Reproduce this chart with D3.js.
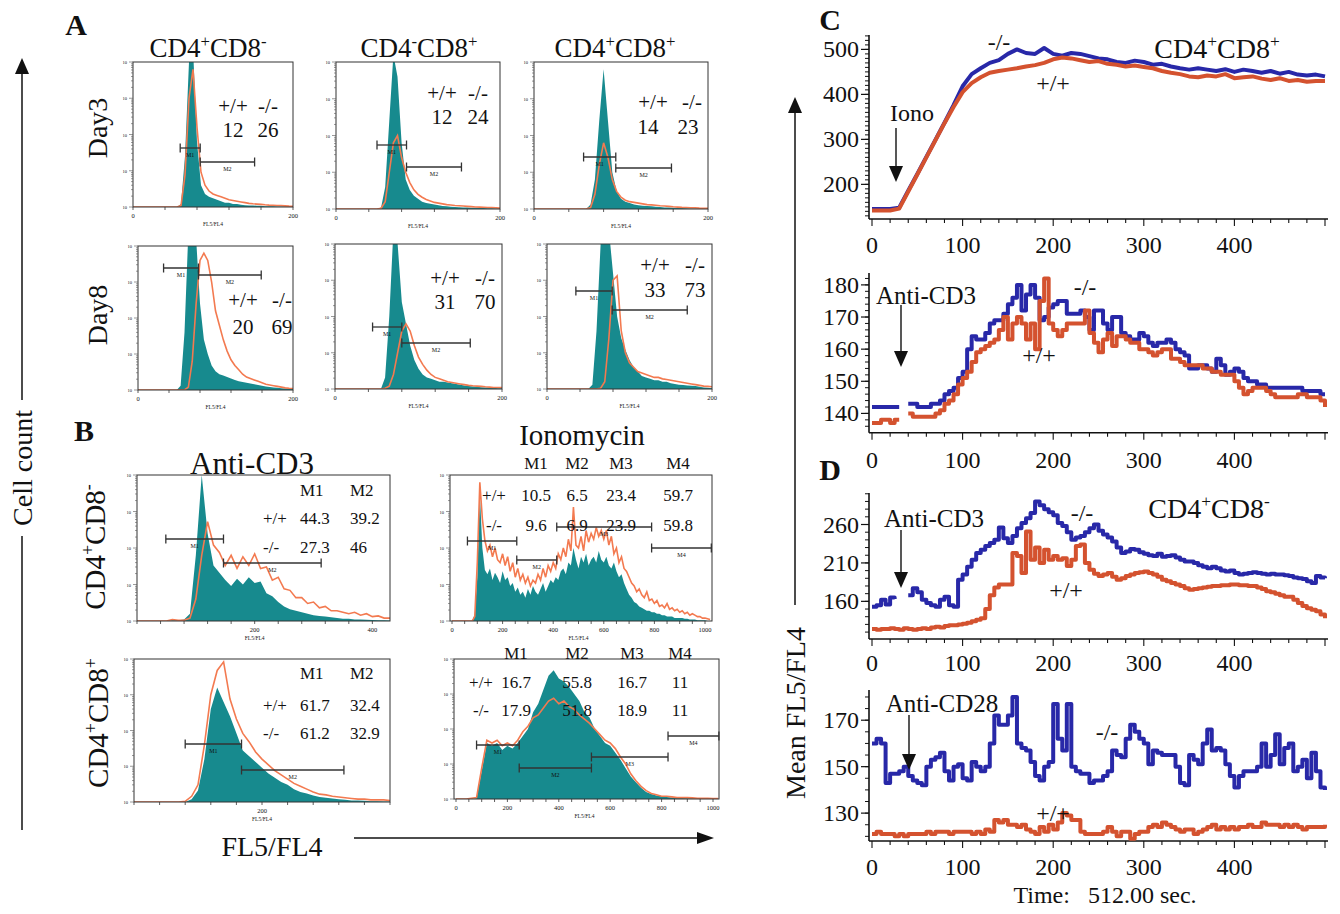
<!DOCTYPE html>
<html><head><meta charset="utf-8">
<script src="https://cdn.jsdelivr.net/npm/d3@7/dist/d3.min.js"></script>
<style>
html,body{margin:0;padding:0;background:#fff;}
svg{display:block;}
text{font-family:"Liberation Serif","Times New Roman",Times,serif;fill:#111;}
</style></head><body>
<svg id="fig" width="1340" height="914"></svg>
<script>
// ================= DATA =================
// Panel A histograms: FL5/FL4 bins (0-200) ; values = % of frame height
const binsA = d3.range(0, 201, 5);
const aTitles = ["CD4^+CD8^-", "CD4^-CD8^+", "CD4^+CD8^+"];
const aRows = ["Day3", "Day8"];
const aTealSeries = [
  [0,0,0,0,0,0,0,0,0,0,0,0, 2,35,100,110,45,15,9,7,6,5, 4,3,3,2,2,1.5,1.2,1,1,0.8, 0.8,0.6,0.5,0.5,0.4,0.4,0.3,0.3,0.2],
  [0,0,0,0,0,0,0,0,0,0,0, 1,15,60,105,90,45,20,13,9,7, 5,4,3.5,3,2.5,2,1.8,1.5,1.3,1.2, 1,1,0.8,0.8,0.7,0.6,0.5,0.5,0.4,0.3],
  [0,0,0,0,0,0,0,0,0,0,0,0,0, 3,20,60,95,60,25,12,7,5,4, 3,2.5,2.2,2,1.8,1.5,1.3,1.1,1,0.9, 0.7,0.6,0.5,0.4,0.3,0.3,0.2,0.2],
  [0,0,0,0,0,0,0,0,0,0, 0,3,40,110,110,105,60,35,25,17, 13,11,10,9,8,7,6,5.5,5,4.5, 4,3.5,3,2.5,2,1.8,1.5,1.2,1,1, 0.8],
  [0,0,0,0,0,0,0,0,0,0,0, 0,8,50,110,100,60,45,30,20,14, 10,8,7,6,5,5,4.5,4,3.5,3, 2.5,2,1.8,1.5,1.2,1,1,0.8,0.6,0.5],
  [0,0,0,0,0,0,0,0,0,0,0, 3,40,100,110,110,80,50,35,27,20, 15,12,9,8,7,6,6,5,5,4, 3.5,3,2.8,2.5,2.2,2,1.5,1,0.8,0.5]
];
const aOrangeSeries = [
  [0,0,0,0,0,0,0,0,0,0,0,0, 1,22,75,95,55,24,15,11,9,8, 7,6,5,4.5,4,3.5,3,2.5,2.2,2, 1.8,1.5,1.3,1.2,1,1,0.8,0.6,0.5],
  [0,0,0,0,0,0,0,0,0,0,0, 0.5,5,25,45,50,35,25,18,13,10, 8,6.5,5.5,4.5,4,3.5,3,2.7,2.4,2.2, 2,1.8,1.6,1.4,1.3,1.2,1,1,0.8,0.6],
  [0,0,0,0,0,0,0,0,0,0,0,0,0, 1,10,30,45,35,20,12,8,6,5, 4.5,4,3.5,3,2.8,2.5,2.2,2,1.8,1.5, 1.3,1.1,1,0.9,0.8,0.6,0.5,0.5],
  [0,0,0,0,0,0,0,0,0,0,0,0,0, 2,20,60,90,95,90,75,55,45,35, 27,21,17,14,11,9,8,7,6,5, 4,3.5,3,2.5,2,1.5,1.2,1],
  [0,0,0,0,0,0,0,0,0,0,0,0, 0.5,2,10,25,40,45,40,30,22,17, 13,10,8,7,6,5,4.5,4,3.5,3, 2.5,2.2,2,1.8,1.5,1.3,1,1,1],
  [0,0,0,0,0,0,0,0,0,0,0,0,0, 0.5,5,35,75,78,40,25,18,15,12, 11,10,9,8,8,7,6.5,6,5.5,5, 4.5,4,3.5,3,2.5,2,1.8,1.5]
];
const aGates = [
  [[59,84],[84,152]], [[50,86],[86,153]], [[57,94],[94,158]],
  [[33,78],[78,159]], [[45,80],[80,162]], [[35,79],[79,170]]
];
const aWT = ["12","12","14","20","31","33"];
const aKO = ["26","24","23","69","70","73"];

// Panel B histograms
const bTitles = ["Anti-CD3", "Ionomycin"];
const bRows = ["CD4^+CD8^-", "CD4^+CD8^+"];
const binsB11 = d3.range(0, 431, 10);
const binsB21 = d3.range(0, 401, 10);
const binsB12 = d3.range(0, 1021, 10);
const binsB22 = d3.range(0, 1021, 20);
const b11Teal = [0,0,0,0,0,0,0.5,0.5,1,5, 45,100,60,38,33,28,24,29,25,30, 26,27,19,17,13,10,8,7,6,5, 4,3.5,3,2.5,2,1.5,1.5,1,1,0.8, 0.6,0.5,0.5,0.3];
const b11Orange = [0,0,0,0,0,0,1,0.5,0.5,2, 15,45,68,52,47,38,45,36,44,38, 46,36,37,28,30,22,21,16,16,12, 13,9,10,7,7,6,5,6,4,5, 3,3.5,2,2];
const b12Teal = [0,0,0,0,0,0,0,0,0,5, 30,88,50,35,32,36,28,33,30,26, 34,28,30,24,26,20,23,18,20,16, 22,18,24,20,18,22,26,20,24,28, 26,30,28,34,36,32,40,38,50,42, 36,44,40,46,38,42,44,40,48,42, 40,44,38,36,40,34,30,32,26,22, 18,16,13,12,10,9,8,7,7,6, 6,5,5,4,4,3,3,3,2,2, 2,2,1.5,1.5,1,1,1,0.5,0.5,0.5, 0.5,0,0];
const b12Orange = [0,0,0,0,0,0,0,0,0,3, 40,95,70,55,48,52,44,50,42,40, 46,38,44,34,40,30,36,28,32,26, 30,24,28,26,32,28,36,30,38,34, 40,36,46,42,50,44,56,48,78,52, 50,58,48,62,54,60,56,64,58,62, 56,62,52,58,46,50,40,44,36,34, 30,26,24,20,22,18,16,20,14,15, 12,14,10,11,9,12,8,9,7,8, 6,7,5,6,4,5,4,3,3,2, 2,1.5,1];
const b21Teal = [0,0,0,0,0,0,0,0,0,2, 8,30,65,80,70,60,48,36,32,28, 24,20,17,14,12,9,7,6,4.5,3.5, 3,2.5,2,1.5,1,1,0.8,0.6,0.5,0.4, 0.3];
const b21Orange = [0,0,0,0,0,0,0,0,0.5,4, 12,40,75,92,98,72,58,48,42,35, 30,26,22,19,16,13,11,9,7,5.5, 5,4,3.5,3,2.5,2,2,1.5,1.5,1.5, 1];
const b22Teal = [0,0,0,0,0.5, 20,40,38,40,35, 38,36,40,45,50, 62,68,78,88,92, 86,84,80,75,70, 62,58,50,45,40, 38,33,28,22,16, 12,8,5,3.5,2.5, 2,1.5,1,1,0.8, 0.6,0.5,0.5,0.4,0.3, 0.3,0.2];
const b22Orange = [0,0,0,0.5,1, 22,42,40,42,38, 40,38,42,48,52, 58,60,65,70,72, 68,70,66,64,60, 57,54,50,46,42, 40,36,30,25,18, 13,9,6,4,3, 2,2,1.5,1,1, 1,0.8,0.5,0.5,0.5, 0.4,0.3];
const bGates = [
  [[49,147],[147,313]],
  [[61,256],[256,414],[414,789],[789,1025]],
  [[80,168],[168,328]],
  [[80,246],[246,527],[527,825],[825,1023]]
];
const bHead2 = ["M1","M2"], bHead4 = ["M1","M2","M3","M4"];
const bAntiWT = [["44.3","39.2"],["61.7","32.4"]];
const bAntiKO = [["27.3","46"],["61.2","32.9"]];
const bIonoWT = [["10.5","6.5","23.4","59.7"],["16.7","55.8","16.7","11"]];
const bIonoKO = [["9.6","6.9","23.9","59.8"],["17.9","51.8","18.9","11"]];

// Panels C/D : mean FL5/FL4 vs time (s)
const tC1 = d3.range(0, 501, 10);
const t5 = d3.range(0, 501, 5);
const xTicksCD = [0,100,200,300,400];
const c1KO = [145,145,145,148,186,223,261,299,337,376, 418,445,458,470,476,490,500,492,490,503, 490,486,492,490,485,480,478,472,470,475, 472,466,468,462,458,455,458,455,452,456, 450,455,452,448,452,446,450,444,442,444, 440];
const c1WT = [142,142,142,146,184,222,260,298,336,372, 405,425,438,448,452,455,458,462,465,470, 478,482,480,476,472,474,468,466,462,464, 461,458,452,448,445,440,438,442,440,445, 436,438,440,435,432,436,430,432,428,430, 430];
const c2KO = [142,142,142,142,142,142,142,null,143,143, 142,142,142,143,143,144,146,147,148,151, 153,160,164,163,163,165,168,169,169,171, 174,176,180,172,177,180,176,169,170,173, 174,175,175,171,171,171,172,170,166,172, 172,168,166,170,170,165,164,163,163,165, 164,162,161,162,162,163,162,160,159,158, 154,154,155,155,154,153,157,155,152,153, 154,153,151,150,150,149,149,148,148,148, 148,148,148,148,148,147,147,147,147,146, 146];
const c2WT = [137,137,138,138,137,138,138,null,140,139, 139,139,139,139,140,141,143,144,146,149, 151,153,156,159,160,161,162,163,166,170, 163,168,170,168,163,168,160,175,182,168, 166,164,166,168,168,168,168,172,165,162, 159,163,165,161,164,164,163,162,162,160, 160,159,158,159,160,160,157,157,156,155, 155,155,155,154,154,153,153,152,152,152, 150,148,146,147,148,148,148,147,146,145, 145,145,145,145,146,146,145,145,145,144, 142];
const d1KO = [153,155,162,156,165,163,null,null,168,177, 172,162,158,155,153,162,166,155,153,188, 195,205,214,223,227,232,236,240,256,242, 236,245,255,262,268,275,290,285,280,276, 272,262,258,250,240,243,245,250,255,260, 252,247,243,238,230,223,225,228,227,224, 222,220,219,222,218,219,220,217,214,212, 212,210,207,205,203,205,203,200,199,200, 197,195,196,197,198,197,196,195,196,195, 195,194,193,191,190,189,186,184,193,191, 190];
const d1WT = [124,123,124,124,125,124,123,125,124,123, 124,125,124,126,127,126,128,129,129,130, 131,132,134,136,138,150,168,178,182,182, 182,223,219,197,251,214,230,210,227,214, 219,214,216,206,214,232,234,210,201,196, 193,195,197,192,188,190,193,195,197,198, 199,197,195,192,188,186,184,182,180,177, 175,176,177,178,179,180,180,181,181,182, 182,181,181,180,180,178,176,173,172,170, 168,166,166,162,158,154,151,149,147,143, 138];
const d2KO = [160,162,160,143,147,147,148,150,146,144, 143,142,150,153,154,156,148,144,150,151, 145,144,152,150,148,150,160,172,168,168, 172,180,160,158,157,152,146,144,150,152, 177,162,157,177,150,148,147,147,143,144, 144,146,148,157,155,154,162,168,165,162, 160,151,157,156,155,155,155,150,143,142, 155,153,151,160,166,157,158,157,151,146, 141,146,148,148,148,150,160,150,155,164, 151,158,160,148,150,153,145,156,148,141, 140];
const d2WT = [121,122,121,121,121,120,121,120,121,121, 121,121,122,121,122,122,122,121,122,122, 122,122,121,122,121,123,122,127,126,127, 125,125,124,125,123,122,121,124,122,125, 123,126,130,129,127,127,122,121,121,121, 121,122,124,122,120,122,122,119,121,122, 122,124,125,124,126,125,124,123,122,123, 123,121,122,123,124,125,123,124,123,124, 123,124,124,125,124,124,126,125,125,125, 124,125,124,125,124,123,124,124,124,124, 125];

// ================= DRAWING =================
const TEAL = "#178a8e", ORANGE = "#f37a50", BLUE = "#2828a8", RED = "#d4522f", INK = "#111";
const svg = d3.select("#fig");
const defs = svg.append("defs");
let clipN = 0;

function rich(parent, str, cx, cy, size, o = {}) {
  const t = parent.append("text")
    .attr("x", cx).attr("y", cy + size * 0.34)
    .attr("font-size", size)
    .attr("text-anchor", o.anchor || "middle");
  if (o.bold) t.attr("font-weight", "bold");
  if (o.rotate) t.attr("transform", `rotate(${o.rotate},${cx},${cy})`);
  if (o.pre) t.style("white-space", "pre");
  let up = false;
  (str.match(/\^.|[^^]+/g) || []).forEach(tok => {
    if (tok[0] === "^") {
      t.append("tspan").attr("font-size", size * 0.62).attr("dy", -size * 0.36).text(tok[1]);
      up = true;
    } else {
      const s = t.append("tspan").text(tok);
      if (up) { s.attr("dy", size * 0.36); up = false; }
    }
  });
  return t;
}

function vArrow(g, x, yFrom, yTip, head, hw, sw) {
  const dir = yTip > yFrom ? 1 : -1;
  g.append("line").attr("x1", x).attr("x2", x).attr("y1", yFrom).attr("y2", yTip - dir * head * 0.8)
    .attr("stroke", INK).attr("stroke-width", sw);
  g.append("path").attr("d", `M${x - hw},${yTip - dir * head}L${x + hw},${yTip - dir * head}L${x},${yTip}Z`).attr("fill", INK);
}

function hist(p) {
  const g = svg.append("g");
  const [fx0, fy0, fx1, fy1] = p.f;
  const x = d3.scaleLinear().domain(p.xd).range(p.xr);
  const y = d3.scaleLinear().domain([0, 100]).range([fy1, fy0]);
  const id = "hc" + (clipN++);
  defs.append("clipPath").attr("id", id).append("rect")
    .attr("x", fx0).attr("y", fy0).attr("width", fx1 - fx0).attr("height", fy1 - fy0);
  const pg = g.append("g").attr("clip-path", `url(#${id})`);
  pg.append("path")
    .attr("d", d3.area().x((d, i) => x(p.bins[i])).y0(fy1).y1(d => y(d))(p.teal))
    .attr("fill", TEAL);
  pg.append("path")
    .attr("d", d3.line().x((d, i) => x(p.bins[i])).y(d => y(d))(p.orange))
    .attr("fill", "none").attr("stroke", ORANGE).attr("stroke-width", 1.6);
  g.append("rect").attr("x", fx0).attr("y", fy0).attr("width", fx1 - fx0).attr("height", fy1 - fy0)
    .attr("fill", "none").attr("stroke", "#333").attr("stroke-width", 1);
  p.ticks.forEach(v => {
    const xx = x(v);
    if (xx < fx0 - 0.5 || xx > fx1 + 0.5) return;
    g.append("line").attr("x1", xx).attr("x2", xx).attr("y1", fy1).attr("y2", fy1 + 3).attr("stroke", "#333").attr("stroke-width", 0.8);
  });
  p.tickLabels.forEach(v => {
    g.append("text").attr("x", x(v)).attr("y", fy1 + 11).attr("text-anchor", "middle")
      .attr("font-size", 6.5).attr("fill", "#333").text(v);
  });
  g.append("text").attr("x", x(p.mid)).attr("y", fy1 + (p.tickLabels.length ? 19 : 17)).attr("text-anchor", "middle")
    .attr("font-size", 5.5).attr("fill", "#333").text("FL5/FL4");
  for (let k = 0; k <= 4; k++) {
    const yy = fy1 - (fy1 - fy0) * k / 4;
    [0, 0.3, 0.48, 0.6, 0.7, 0.78, 0.85, 0.9, 0.95].forEach((f, j) => {
      if (k === 4 && j > 0) return;
      const y2 = yy - (fy1 - fy0) / 4 * f;
      g.append("line").attr("x1", fx0 - (j === 0 ? 4 : 2)).attr("x2", fx0).attr("y1", y2).attr("y2", y2)
        .attr("stroke", "#555").attr("stroke-width", 0.6);
    });
    g.append("text").attr("x", fx0 - 6).attr("y", yy + 2).attr("text-anchor", "end")
      .attr("font-size", 4.5).attr("fill", "#666").text("10");
  }
  p.gates.forEach((gt, i) => {
    const a = Math.max(x(gt[0]), fx0), b = Math.min(x(gt[1]), fx1), gy = p.gy[i];
    g.append("line").attr("x1", a).attr("x2", b).attr("y1", gy).attr("y2", gy).attr("stroke", "#333").attr("stroke-width", 1.3);
    [a, b].forEach(e => g.append("line").attr("x1", e).attr("x2", e).attr("y1", gy - 4.5).attr("y2", gy + 4.5)
      .attr("stroke", "#333").attr("stroke-width", 1.3));
    g.append("text").attr("x", (a + b) / 2).attr("y", gy + 9).attr("text-anchor", "middle")
      .attr("font-size", 6).attr("fill", "#333").text("M" + (i + 1));
  });
  return g;
}

// ---------- Panel A ----------
rich(svg, "A", 76, 25, 30, { bold: true });
const aTitlePos = [[208, 48], [419, 48], [615, 48]];
aTitles.forEach((t, i) => rich(svg, t, aTitlePos[i][0], aTitlePos[i][1], 27));
rich(svg, aRows[0], 97, 128, 28, { rotate: -90 });
rich(svg, aRows[1], 97, 315, 28, { rotate: -90 });
const aLayout = [
  { f: [133, 62, 293, 207], gy: [148, 162], st: [[233, 106], [268, 106], [233, 130], [268, 130]] },
  { f: [336, 62, 500, 209], gy: [145, 167], st: [[442, 93], [478, 93], [442, 117], [478, 117]] },
  { f: [534, 62, 708, 209], gy: [157, 168], st: [[653, 102], [692, 102], [648, 127], [688, 127]] },
  { f: [138, 246, 293, 390], gy: [268, 275], st: [[243, 300], [282, 300], [243, 327], [282, 327]] },
  { f: [335, 244, 502, 389], gy: [327, 343], st: [[445, 278], [485, 278], [445, 302], [485, 302]] },
  { f: [547, 244, 712, 389], gy: [291, 310], st: [[655, 265], [695, 265], [655, 290], [695, 290]] }
];
aLayout.forEach((L, i) => {
  hist({
    f: L.f, xd: [0, 200], xr: [L.f[0], L.f[2]], bins: binsA,
    teal: aTealSeries[i], orange: aOrangeSeries[i],
    ticks: d3.range(0, 201, 40), tickLabels: [0, 200], mid: 100,
    gates: aGates[i], gy: L.gy
  });
  const s = L.st;
  rich(svg, "+/+", s[0][0], s[0][1], 21);
  rich(svg, "-/-", s[1][0], s[1][1], 21);
  rich(svg, aWT[i], s[2][0], s[2][1], 21);
  rich(svg, aKO[i], s[3][0], s[3][1], 21);
});

// ---------- Panel B ----------
rich(svg, "B", 84, 431, 30, { bold: true });
rich(svg, bTitles[0], 252, 463, 31);
rich(svg, bTitles[1], 582, 435, 29);
rich(svg, bRows[0], 95, 547, 29, { rotate: -90 });
rich(svg, bRows[1], 98, 723, 29, { rotate: -90 });

hist({ f: [137, 475, 390, 621], xd: [0, 430], xr: [137, 390], bins: binsB11, teal: b11Teal, orange: b11Orange,
  ticks: d3.range(0, 431, 40), tickLabels: [200, 400], mid: 200, gates: bGates[0], gy: [539, 563] });
hist({ f: [450, 475, 712, 621], xd: [0, 1000], xr: [452, 705], bins: binsB12, teal: b12Teal, orange: b12Orange,
  ticks: d3.range(0, 1001, 50), tickLabels: [0, 200, 400, 600, 800, 1000], mid: 500, gates: bGates[1], gy: [541, 560, 527, 548] });
hist({ f: [134, 659, 390, 802], xd: [0, 400], xr: [134, 390], bins: binsB21, teal: b21Teal, orange: b21Orange,
  ticks: d3.range(0, 401, 40), tickLabels: [200], mid: 200, gates: bGates[2], gy: [744, 770] });
hist({ f: [454, 659, 719, 799], xd: [0, 1000], xr: [456, 713], bins: binsB22, teal: b22Teal, orange: b22Orange,
  ticks: d3.range(0, 1001, 50), tickLabels: [0, 200, 400, 600, 800, 1000], mid: 500, gates: bGates[3], gy: [745, 768, 757, 736] });

function antiStats(row, yH, yW, yK) {
  const sz = 17;
  bHead2.forEach((h, j) => rich(svg, h, [300, 350][j], yH, sz, { anchor: "start" }));
  rich(svg, "+/+", 263, yW, sz, { anchor: "start" });
  rich(svg, "-/-", 263, yK, sz, { anchor: "start" });
  bAntiWT[row].forEach((v, j) => rich(svg, v, [300, 350][j], yW, sz, { anchor: "start" }));
  bAntiKO[row].forEach((v, j) => rich(svg, v, [300, 350][j], yK, sz, { anchor: "start" }));
}
antiStats(0, 490, 518, 547);
antiStats(1, 673, 705, 733);
function ionoStats(row, cols, labX, yH, yW, yK) {
  const sz = 17;
  bHead4.forEach((h, j) => rich(svg, h, cols[j], yH, sz));
  rich(svg, "+/+", labX, yW, sz);
  rich(svg, "-/-", labX, yK, sz);
  bIonoWT[row].forEach((v, j) => rich(svg, v, cols[j], yW, sz));
  bIonoKO[row].forEach((v, j) => rich(svg, v, cols[j], yK, sz));
}
ionoStats(0, [536, 577, 621, 678], 494, 463, 495, 525);
ionoStats(1, [516, 577, 632, 680], 481, 653, 682, 710);

rich(svg, "FL5/FL4", 272, 846, 28);
svg.append("line").attr("x1", 354).attr("x2", 700).attr("y1", 838).attr("y2", 838).attr("stroke", INK).attr("stroke-width", 1.5);
svg.append("path").attr("d", "M697,832L714,838L697,844Z").attr("fill", INK);

vArrow(svg, 22, 830, 58, 16, 7, 1.5);
svg.append("rect").attr("x", 6).attr("y", 400).attr("width", 32).attr("height", 136).attr("fill", "#fff");
rich(svg, "Cell count", 22, 468, 28, { rotate: -90 });

// ---------- Panels C / D ----------
rich(svg, "C", 830, 20, 30, { bold: true });
rich(svg, "D", 830, 470, 30, { bold: true });
vArrow(svg, 795, 605, 97, 16, 7, 1.5);
rich(svg, "Mean FL5/FL4", 795, 713, 28, { rotate: -90 });

const xCD = d3.scaleLinear().domain([0, 500]).range([872, 1325]);
function traces(p) {
  const g = svg.append("g");
  const y = d3.scaleLinear().domain(p.yd).range(p.yr);
  const AX = 869, y0 = p.yr[0], yTop = p.yr[1];
  p.yMinor.forEach(v => g.append("line").attr("x1", AX - 4).attr("x2", AX).attr("y1", y(v)).attr("y2", y(v)).attr("stroke", INK).attr("stroke-width", 1));
  p.yMajor.forEach(v => {
    g.append("line").attr("x1", AX - 8).attr("x2", AX).attr("y1", y(v)).attr("y2", y(v)).attr("stroke", INK).attr("stroke-width", 1.2);
    g.append("text").attr("x", AX - 10).attr("y", y(v) + 8).attr("text-anchor", "end").attr("font-size", 24).text(v);
  });
  g.append("line").attr("x1", AX).attr("x2", AX).attr("y1", yTop).attr("y2", y0).attr("stroke", INK).attr("stroke-width", 1.6);
  g.append("line").attr("x1", AX).attr("x2", 1328).attr("y1", y0).attr("y2", y0).attr("stroke", INK).attr("stroke-width", 1.6);
  d3.range(0, 501, 20).forEach(v => g.append("line").attr("x1", xCD(v)).attr("x2", xCD(v)).attr("y1", y0).attr("y2", y0 + (v % 100 === 0 ? 7 : 4)).attr("stroke", INK).attr("stroke-width", 1.1));
  xTicksCD.forEach(v => g.append("text").attr("x", xCD(v)).attr("y", p.labY + 8).attr("text-anchor", "middle").attr("font-size", 24).text(v));
  const line = d3.line().defined(d => d != null).x((d, i) => xCD(p.t[i])).y(d => y(d)).curve(p.curve);
  g.append("path").attr("d", line(p.ko)).attr("fill", "none").attr("stroke", BLUE).attr("stroke-width", 4).attr("stroke-linejoin", "round");
  g.append("path").attr("d", line(p.wt)).attr("fill", "none").attr("stroke", RED).attr("stroke-width", 4).attr("stroke-linejoin", "round");
  return g;
}

traces({ yd: [123, 532], yr: [219, 35], yMajor: [200, 300, 400, 500], yMinor: d3.range(130, 531, 10), labY: 245,
  t: tC1, ko: c1KO, wt: c1WT, curve: d3.curveLinear });
traces({ yd: [134, 183.7], yr: [432.7, 273], yMajor: [140, 150, 160, 170, 180], yMinor: d3.range(136, 183, 2), labY: 460,
  t: t5, ko: c2KO, wt: c2WT, curve: d3.curveStepAfter });
traces({ yd: [111, 301], yr: [639, 493], yMajor: [160, 210, 260], yMinor: d3.range(120, 301, 10), labY: 663,
  t: t5, ko: d1KO, wt: d1WT, curve: d3.curveStepAfter });
traces({ yd: [118, 183], yr: [841, 690], yMajor: [130, 150, 170], yMinor: d3.range(120, 183, 5), labY: 867,
  t: t5, ko: d2KO, wt: d2WT, curve: d3.curveStepAfter });

rich(svg, "CD4^+CD8^+", 1217, 48, 28);
rich(svg, "-/-", 999, 42, 24);
rich(svg, "+/+", 1053, 83, 24);
rich(svg, "Iono", 912, 113, 24);
vArrow(svg, 896, 128, 182, 16, 7, 1.4);

rich(svg, "Anti-CD3", 926, 295, 25);
vArrow(svg, 901, 305, 367, 16, 7, 1.4);
rich(svg, "-/-", 1085, 287, 24);
rich(svg, "+/+", 1039, 355, 24);

rich(svg, "CD4^+CD8^-", 1209, 508, 28);
rich(svg, "Anti-CD3", 934, 518, 25);
vArrow(svg, 901, 530, 588, 16, 7, 1.4);
rich(svg, "-/-", 1082, 513, 24);
rich(svg, "+/+", 1066, 590, 24);

rich(svg, "Anti-CD28", 942, 703, 25);
vArrow(svg, 909, 715, 770, 16, 7, 1.4);
rich(svg, "-/-", 1107, 732, 24);
rich(svg, "+/+", 1053, 813, 24);

rich(svg, "Time:   512.00 sec.", 1105, 895, 24, { pre: true });
</script>
</body></html>
